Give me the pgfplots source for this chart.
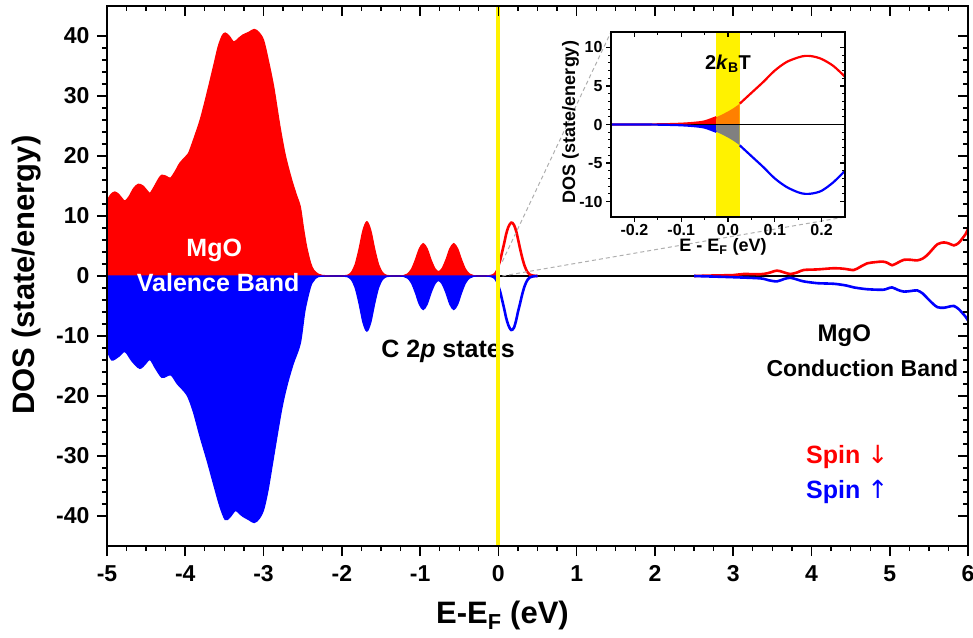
\documentclass[border=0pt]{standalone}
\usepackage{pgfplots}
\pgfplotsset{compat=1.18}
\usepackage{pgfplotstable}
\usepackage{fontspec}
\setmainfont{Liberation Sans}
\newfontfamily\arrowfont{DejaVu Sans}
\definecolor{bandor}{RGB}{255,128,0}
\definecolor{bandgr}{RGB}{128,128,128}
\definecolor{dashgr}{RGB}{175,175,175}

\pgfplotstableread{
x y
-5.00 12.5
-4.95 13.6
-4.90 14.0
-4.85 13.6
-4.80 12.8
-4.77 12.5
-4.72 13.2
-4.66 14.6
-4.60 15.3
-4.54 15.0
-4.48 14.1
-4.45 13.8
-4.40 14.8
-4.34 16.2
-4.30 16.8
-4.24 16.6
-4.19 16.3
-4.13 17.4
-4.07 18.8
-4.00 19.8
-3.96 20.4
-3.90 22.5
-3.81 26.0
-3.74 29.5
-3.68 32.7
-3.62 36.0
-3.58 38.2
-3.53 40.0
-3.49 40.5
-3.44 40.0
-3.38 39.0
-3.32 39.6
-3.26 40.2
-3.19 40.6
-3.12 41.1
-3.06 40.6
-3.00 39.3
-2.94 36.0
-2.87 31.5
-2.79 24.9
-2.72 20.0
-2.64 16.0
-2.58 13.5
-2.53 11.5
-2.49 8.0
-2.45 4.9
-2.40 2.2
-2.36 1.0
-2.30 0.3
-2.25 0.1
-2.10 0.0
-1.98 0.02
-1.93 0.12
-1.88 0.57
-1.83 1.9
-1.78 4.5
-1.73 7.6
-1.68 9.05
-1.63 7.6
-1.58 4.5
-1.53 1.9
-1.48 0.57
-1.43 0.12
-1.38 0.02
-1.30 0.0
-1.21 0.07
-1.16 0.34
-1.11 1.14
-1.06 2.7
-1.01 4.54
-0.96 5.4
-0.91 4.54
-0.86 2.7
-0.81 1.24
-0.765 0.72
-0.72 1.24
-0.67 2.7
-0.62 4.54
-0.57 5.4
-0.52 4.54
-0.47 2.7
-0.42 1.14
-0.37 0.34
-0.32 0.07
-0.25 0.01
-0.15 0.02
-0.10 0.10
-0.075 0.20
-0.05 0.40
-0.025 0.95
0.00 1.7
}\redV

\pgfplotstableread{
x y
-5.00 -12.3
-4.94 -14.0
-4.85 -13.4
-4.77 -12.6
-4.68 -14.2
-4.58 -15.4
-4.50 -14.5
-4.45 -13.9
-4.38 -15.4
-4.30 -16.9
-4.24 -16.7
-4.18 -16.5
-4.10 -18.0
-3.98 -19.8
-3.90 -22.5
-3.81 -26.8
-3.72 -30.8
-3.64 -34.6
-3.56 -38.3
-3.49 -40.6
-3.43 -40.2
-3.36 -39.1
-3.30 -39.7
-3.26 -40.1
-3.19 -40.6
-3.12 -41.1
-3.06 -40.5
-3.00 -39.0
-2.94 -35.5
-2.87 -30.0
-2.77 -22.3
-2.70 -18.2
-2.62 -14.6
-2.53 -11.2
-2.47 -5.7
-2.40 -1.8
-2.36 -0.8
-2.30 -0.1
-2.10 0.0
-1.98 -0.02
-1.93 -0.12
-1.88 -0.58
-1.83 -1.94
-1.78 -4.6
-1.73 -7.74
-1.68 -9.2
-1.63 -7.74
-1.58 -4.6
-1.53 -1.94
-1.48 -0.58
-1.43 -0.12
-1.38 -0.02
-1.30 0.0
-1.21 -0.07
-1.16 -0.35
-1.11 -1.18
-1.06 -2.8
-1.01 -4.71
-0.96 -5.6
-0.91 -4.71
-0.86 -2.8
-0.81 -1.29
-0.765 -0.75
-0.72 -1.29
-0.67 -2.8
-0.62 -4.71
-0.57 -5.6
-0.52 -4.71
-0.47 -2.8
-0.42 -1.18
-0.37 -0.35
-0.32 -0.07
-0.25 -0.01
-0.15 -0.02
-0.10 -0.10
-0.075 -0.20
-0.05 -0.40
-0.025 -0.95
0.00 -1.7
}\blueV

\pgfplotstableread{
x y
0.000 1.7
0.025 2.7
0.050 4.1
0.075 5.5
0.100 7.0
0.125 8.1
0.150 8.7
0.165 8.9
0.180 8.85
0.200 8.5
0.225 7.6
0.250 6.2
0.275 4.7
0.300 3.3
0.325 2.1
0.350 1.2
0.375 0.6
0.400 0.25
0.450 0.05
0.500 0.0
}\redCa

\pgfplotstableread{
x y
2.500 0.0
2.800 0.1
3.000 0.15
3.130 0.33
3.350 0.3
3.450 0.5
3.560 0.9
3.650 0.6
3.730 0.33
3.820 0.6
3.900 1.0
4.080 1.1
4.290 1.3
4.420 1.2
4.540 1.0
4.620 1.5
4.710 2.1
4.810 2.3
4.910 2.4
4.970 2.2
5.030 1.8
5.100 2.2
5.180 2.7
5.270 2.7
5.350 2.6
5.420 2.9
5.480 3.5
5.550 4.5
5.610 5.3
5.690 5.6
5.760 5.4
5.820 5.1
5.880 5.5
5.930 6.3
5.970 7.0
6.000 7.8
}\redCb

\pgfplotstableread{
x y
0.000 -1.7
0.025 -2.7
0.050 -4.1
0.075 -5.5
0.100 -7.0
0.125 -8.1
0.150 -8.8
0.165 -9.0
0.180 -8.95
0.200 -8.6
0.225 -7.5
0.250 -6.0
0.275 -4.7
0.300 -3.3
0.325 -2.1
0.350 -1.2
0.375 -0.6
0.400 -0.25
0.450 -0.05
0.500 0.0
}\blueCa

\pgfplotstableread{
x y
2.500 0.0
3.000 -0.2
3.350 -0.4
3.450 -0.7
3.560 -0.9
3.650 -0.5
3.730 -0.3
3.820 -0.6
3.900 -0.9
4.080 -1.2
4.290 -1.3
4.450 -1.6
4.540 -1.9
4.710 -2.2
4.910 -2.3
4.970 -2.1
5.030 -1.9
5.100 -2.3
5.180 -2.6
5.270 -2.5
5.350 -2.4
5.420 -2.9
5.480 -3.7
5.550 -4.6
5.610 -5.2
5.690 -5.3
5.760 -5.1
5.820 -5.0
5.880 -5.5
5.930 -6.2
5.970 -6.8
6.000 -7.4
}\blueCb

\pgfplotstableread{
x y
-0.250 0.0
-0.200 0.0
-0.150 0.02
-0.125 0.05
-0.100 0.10
-0.075 0.20
-0.050 0.40
-0.025 0.95
}\redIL

\pgfplotstableread{
x y
-0.025 0.95
-0.0125 1.3
0.000 1.7
0.0125 2.15
0.025 2.7
}\redIB

\pgfplotstableread{
x y
0.025 2.7
0.050 4.1
0.075 5.5
0.100 7.0
0.125 8.1
0.150 8.7
0.165 8.9
0.180 8.85
0.200 8.5
0.225 7.6
0.250 6.2
}\redIR

\pgfplotstableread{
x y
-0.250 0.0
-0.200 0.0
-0.150 -0.02
-0.125 -0.05
-0.100 -0.10
-0.075 -0.20
-0.050 -0.40
-0.025 -0.95
}\blueIL

\pgfplotstableread{
x y
-0.025 -0.95
-0.0125 -1.3
0.000 -1.7
0.0125 -2.15
0.025 -2.7
}\blueIB

\pgfplotstableread{
x y
0.025 -2.7
0.050 -4.1
0.075 -5.5
0.100 -7.0
0.125 -8.1
0.150 -8.8
0.165 -9.0
0.180 -8.95
0.200 -8.6
0.225 -7.5
0.250 -6.0
}\blueIR

\begin{document}
\begin{tikzpicture}
\path[use as bounding box] (-107pt,-91pt) rectangle (866pt,546pt);
\pgfplotsset{
  frame/.style={scale only axis, xmin=-5, xmax=6, ymin=-45, ymax=45,
    width=861pt, height=540pt, at={(0pt,0pt)}, anchor=south west,
    xtick={-5,-4,...,6}, ytick={-40,-30,...,40},
    minor x tick num=3, minor y tick num=4,
    major tick length=10pt, minor tick length=5pt,
    axis line style={line width=1.8pt},
    every major tick/.style={line width=1.6pt, black},
    every minor tick/.style={line width=1.3pt, black}},
}
\begin{axis}[frame,
  tick align=outside, xtick pos=left, ytick pos=left,
  /pgf/number format/assume math mode=true,
  tick label style={font=\fontsize{23}{23}\selectfont\bfseries},
  xticklabel style={yshift=-6pt},
  yticklabel style={xshift=-4pt},
]
\addplot[black, line width=1.4pt] coordinates {(-5,0) (6,0)};
\addplot[smooth, fill=red, draw=red, line width=1.2pt] table[x=x,y=y] {\redV} \closedcycle;
\addplot[smooth, fill=blue, draw=blue, line width=1.2pt] table[x=x,y=y] {\blueV} \closedcycle;
\addplot[smooth, red, line width=2.6pt] table[x=x,y=y] {\redCa};
\addplot[smooth, blue, line width=2.6pt] table[x=x,y=y] {\blueCa};
\addplot[smooth, red, line width=2.6pt] table[x=x,y=y] {\redCb};
\addplot[smooth, blue, line width=2.6pt] table[x=x,y=y] {\blueCb};
\node[white, inner sep=0pt, anchor=base, font=\fontsize{25}{25}\selectfont\bfseries] at (axis cs:-3.63,3.33) {MgO};
\node[white, inner sep=0pt, anchor=base, font=\fontsize{25}{25}\selectfont\bfseries] at (axis cs:-3.58,-2.5) {Valence Band};
\node[black, inner sep=0pt, anchor=base, font=\fontsize{25}{25}\selectfont\bfseries] at (axis cs:-0.643,-13.55) {C 2\textit{p} states};
\node[black, inner sep=0pt, anchor=base, font=\fontsize{24}{24}\selectfont\bfseries] at (axis cs:4.42,-10.95) {MgO};
\node[black, inner sep=0pt, anchor=base, font=\fontsize{23}{23}\selectfont\bfseries] at (axis cs:4.65,-16.7) {Conduction Band};
\node[red, inner sep=0pt, anchor=base west, font=\fontsize{25}{25}\selectfont\bfseries] at (axis cs:3.93,-31.2) {Spin {\arrowfont\mdseries ↓}};
\node[blue, inner sep=0pt, anchor=base west, font=\fontsize{25}{25}\selectfont\bfseries] at (axis cs:3.93,-37) {Spin {\arrowfont\mdseries ↑}};
\addplot[yellow, line width=4.07pt] coordinates {(0,-45) (0,45)};
\end{axis}
\begin{axis}[frame, tick align=inside, xtick pos=right, ytick pos=right,
  xticklabels={}, yticklabels={}]
\end{axis}
\node[anchor=base, inner sep=0pt, font=\fontsize{31}{31}\selectfont\bfseries] at (395.5pt,-77.3pt) {E-E\textsubscript{F} (eV)};
\node[rotate=90, anchor=base, inner sep=0pt, font=\fontsize{31}{31}\selectfont\bfseries] at (-72pt,271pt) {DOS (state/energy)};
\draw[dashgr, line width=1pt, dash pattern=on 4pt off 3pt] (395.3pt,284.4pt) -- (504pt,514pt);
\draw[dashgr, line width=1pt, dash pattern=on 4pt off 3pt] (395.3pt,270pt) -- (738pt,329pt);
\pgfplotsset{
  iframe/.style={scale only axis, xmin=-0.25, xmax=0.25, ymin=-12, ymax=12,
    width=234pt, height=185pt, at={(504pt,329pt)}, anchor=south west,
    xtick={-0.2,-0.1,0,0.1,0.2}, ytick={-10,-5,0,5,10},
    minor x tick num=1, minor y tick num=4,
    major tick length=5pt, minor tick length=3pt,
    axis line style={line width=1.2pt},
    every major tick/.style={line width=1.1pt, black},
    every minor tick/.style={line width=0.9pt, black}},
}
\begin{axis}[iframe, axis background/.style={fill=white},
  tick align=outside, xtick pos=left, ytick pos=left,
  /pgf/number format/assume math mode=true,
  tick label style={font=\fontsize{16}{16}\selectfont\bfseries},
  xticklabel style={yshift=1.5pt, /pgf/number format/fixed, /pgf/number format/fixed zerofill, /pgf/number format/precision=1},
]
\addplot[yellow, line width=23.8pt] coordinates {(0,-12) (0,12)};
\addplot[smooth, fill=red, draw=none] table[x=x,y=y] {\redIL} \closedcycle;
\addplot[smooth, fill=bandor, draw=none] table[x=x,y=y] {\redIB} \closedcycle;
\addplot[smooth, fill=blue, draw=none] table[x=x,y=y] {\blueIL} \closedcycle;
\addplot[smooth, fill=bandgr, draw=none] table[x=x,y=y] {\blueIB} \closedcycle;
\addplot[black, line width=1pt] coordinates {(-0.25,0) (0.25,0)};
\addplot[smooth, red, line width=2.2pt] table[x=x,y=y] {\redIL};
\addplot[smooth, red, line width=2.2pt] table[x=x,y=y] {\redIR};
\addplot[smooth, blue, line width=2.2pt] table[x=x,y=y] {\blueIL};
\addplot[smooth, blue, line width=2.2pt] table[x=x,y=y] {\blueIR};
\node[inner sep=0pt, anchor=base, font=\fontsize{20}{20}\selectfont\bfseries] at (axis cs:0,7.1) {2\textit{k}\textsubscript{B}T};
\end{axis}
\begin{axis}[iframe, tick align=inside, xtick pos=right, ytick pos=right,
  xticklabels={}, yticklabels={}]
\end{axis}
\node[anchor=base, inner sep=0pt, font=\fontsize{18}{18}\selectfont\bfseries] at (616pt,294pt) {E - E\textsubscript{F} (eV)};
\node[rotate=90, anchor=base, inner sep=0pt, font=\fontsize{18}{18}\selectfont\bfseries] at (468pt,424pt) {DOS (state/energy)};
\end{tikzpicture}
\end{document}
